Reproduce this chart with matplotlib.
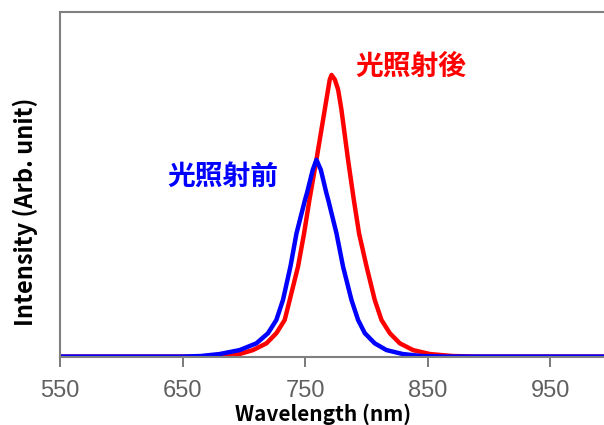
import numpy as np
import matplotlib
matplotlib.use("Agg")
import matplotlib.pyplot as plt

plt.rcParams['font.family'] = ['Noto Sans CJK JP', 'DejaVu Sans']

# スペクトル
wl_after = [550, 670, 685, 696.6, 707.5, 718.5, 726.6, 733.4, 737.5, 744.3, 749.2,
            753.6, 759.3, 766.1, 768.8, 770.2, 771.6, 774.3, 777.0, 779.7, 785.1,
            789.8, 794.1, 800.2, 806.9, 812.4, 819.2, 827.4, 838.2, 851.9, 870, 890, 994]
int_after = [0, 0, 0.002, 0.009, 0.023, 0.047, 0.083, 0.130, 0.201, 0.320, 0.437,
             0.557, 0.699, 0.877, 0.948, 0.984, 1.0, 0.984, 0.948, 0.877, 0.699,
             0.557, 0.437, 0.320, 0.201, 0.130, 0.083, 0.047, 0.023, 0.009, 0.002, 0, 0]

wl_before = [550, 650, 665, 680.3, 696.6, 710.3, 719.8, 726.6, 732.0, 738.1, 743.0,
             750.0, 751.6, 756.3, 759.3, 762.9, 767.4, 768.9, 775.7, 781.0, 787.9,
             793.3, 798.8, 806.9, 816.5, 829.8, 845, 865, 994]
int_before = [0, 0, 0.002, 0.009, 0.023, 0.047, 0.083, 0.130, 0.201, 0.320, 0.437,
              0.557, 0.581, 0.663, 0.699, 0.663, 0.581, 0.557, 0.437, 0.320, 0.201,
              0.130, 0.083, 0.047, 0.023, 0.009, 0.002, 0, 0]

xticks = [550, 650, 750, 850, 950]

fig = plt.figure(figsize=(6.04, 4.25), dpi=100)
ax = fig.add_axes([0.0993, 0.161, 0.9007, 0.811])

ax.plot(wl_after, int_after, color='#ff0000', lw=3.2, solid_joinstyle='round')
ax.plot(wl_before, int_before, color='#0000ff', lw=3.2, solid_joinstyle='round')

ax.set_xlim(550, 994)
ax.set_ylim(0, 1.224)

ax.text(791, 1.028, '光照射後', color='#ff0000', fontsize=20, fontweight='bold',
        va='center', ha='left')
ax.text(638, 0.638, '光照射前', color='#0000ff', fontsize=20, fontweight='bold',
        va='center', ha='left')

ax.set_xticks(xticks)
ax.set_xticklabels([str(t) for t in xticks], family='Liberation Sans',
                   fontsize=17, color='#606060')
ax.set_yticks([])
ax.tick_params(axis='x', direction='out', length=7, width=1.3, color='#707070', pad=10)

for s in ['left', 'top', 'bottom']:
    ax.spines[s].set_color('#808080')
    ax.spines[s].set_linewidth(1.5)
ax.spines['right'].set_visible(False)

ax.set_xlabel('Wavelength (nm)', fontsize=15, fontweight='bold')
ax.xaxis.set_label_coords(0.483, -0.135)
ax.set_ylabel('Intensity (Arb. unit)', fontsize=17, fontweight='bold')
ax.yaxis.set_label_coords(-0.040, 0.42)

fig.savefig('out.png', dpi=100)
